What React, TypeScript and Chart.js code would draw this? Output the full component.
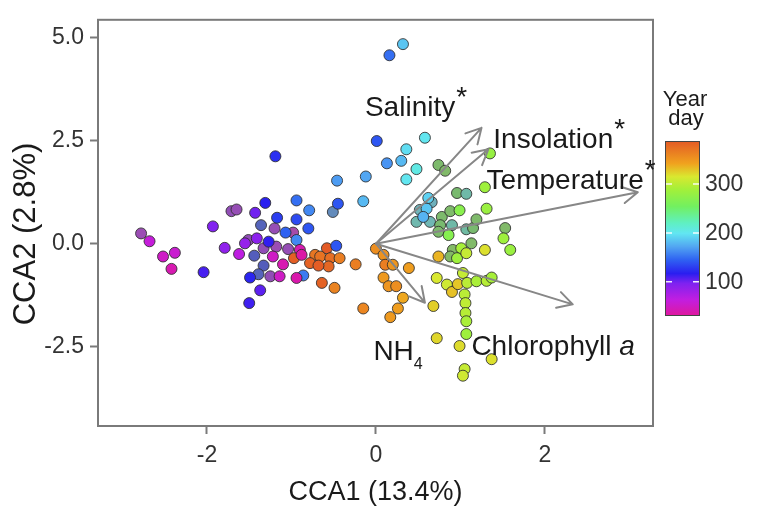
import { useEffect, useRef } from 'react';
import { Chart, registerables } from 'chart.js';

Chart.register(...registerables);

const FONT = "'Liberation Sans', Arial, Helvetica, sans-serif";

// ---- sample scores (CCA1, CCA2), year day, and muted (overlapping / second set) flag ----
const cca1 = [
  -2.78, -2.68, -2.52, -2.38, -2.42, -1.93, -2.04, -1.79, -1.71, -1.65,
  -1.62, -1.19, -1.31, -1.43, -0.94, -0.79, -0.45, -0.51, -1.17, -0.94,
  -1.36, -1.20, -1.07, -0.98, -0.80, -0.94, -1.51, -1.41, -1.55, -1.27,
  -1.33, -1.18, -1.04, -1.44, -1.22, -0.90, -0.97, -0.88, -0.72, -0.58,
  -0.47, -0.78, -0.66, -0.54, -0.43, -0.56, -0.68, -1.10, -1.33, -1.39,
  -1.25, -1.14, -0.86, -0.94, -1.49, -0.64, -0.49, -1.37, -1.50, -0.24,
  -0.15,
  0.16, 0.32, 0.01, -0.46, -0.12, 0.13, -0.15, 0.58, 0.36, 0.30, 0.48, 0.36,
  0.74, 0.82, 1.35, 0.96, 1.07, 1.29, 1.31, 0.66, 0.62, 0.60,
  0.56, 0.52, 0.48, 0.64, 0.78, 0.88, 0.99, 0.76, 0.90, 0.74,
  0.86, 1.07, 1.15, 1.19, 1.53, 1.51, 1.59, 1.29, 1.13, 1.01,
  0.91, 0.88, 0.96, 1.07, 0.74, 0.39, 0.00, 0.09, 0.11, 0.20,
  0.09, 0.15, 0.24, 0.32, 0.26, 0.17, 0.68, 0.72, 0.84, 0.90,
  0.97, 1.03, 1.08, 1.19, 1.31, 1.37, 1.05, 1.06, 1.06, 1.07,
  1.07, 0.99, 0.72, 1.37, 1.05, 1.03,
];
const cca2 = [
  0.25, 0.06, -0.31, -0.22, -0.61, 0.42, -0.69, -0.10, 0.79, 0.83,
  -0.25, 2.12, 0.99, 0.75, 1.05, 0.81, 0.97, 0.77, 0.63, 0.59,
  0.45, 0.37, 0.27, 0.27, 0.37, 0.09, 0.09, 0.13, 0.01, 0.05,
  -0.11, -0.07, -0.13, -0.29, -0.31, -0.15, -0.35, -0.27, -0.27, -0.11,
  -0.05, -0.47, -0.31, -0.35, -0.35, -0.55, -0.53, -0.50, -0.53, -0.74,
  -0.79, -0.79, -0.77, -0.83, -0.82, -0.95, -1.07, -1.13, -1.44, -0.50,
  -1.57,
  4.57, 4.84, 2.49, 1.53, 1.63, 1.95, 1.03, 2.57, 2.29, 2.01, 1.81, 1.56,
  1.91, 1.77, 2.19, 1.23, 1.21, 1.37, 0.85, 1.01, 1.11, 0.85,
  0.65, 0.82, 0.53, 0.53, 0.65, 0.79, 0.81, 0.45, 0.45, 0.29,
  0.21, 0.35, 0.38, 0.59, 0.38, 0.13, -0.15, -0.15, 0.01, -0.11,
  -0.15, -0.31, -0.35, -0.23, -0.31, -0.59, -0.12, -0.27, -0.51, -0.51,
  -0.82, -1.03, -1.03, -1.31, -1.57, -1.78, -1.51, -0.83, -0.99, -1.17,
  -0.98, -0.71, -0.95, -0.91, -0.90, -0.82, -1.23, -1.44, -1.68, -1.88,
  -2.19, -2.48, -2.29, -2.80, -3.04, -3.20,
];
const yearDay = [
  70, 60, 50, 55, 40, 95, 110, 88, 80, 75,
  65, 125, 118, 100, 150, 160, 140, 165, 130, 135,
  135, 75, 145, 55, 140, 160, 80, 90, 85, 115,
  80, 70, 75, 130, 50, 40, 385, 35, 370, 388,
  140, 382, 372, 375, 365, 380, 386, 40, 130, 135,
  80, 50, 155, 38, 120, 383, 362, 105, 112, 365,
  360,
  150, 185, 140, 168, 172, 165, 180, 200, 195, 180, 205, 200,
  260, 265, 280, 255, 215, 285, 282, 195, 190, 185,
  178, 200, 210, 205, 260, 262, 270, 255, 215, 260,
  268, 220, 255, 262, 265, 285, 282, 318, 265, 290,
  270, 268, 285, 305, 335, 345, 355, 352, 365, 350,
  348, 350, 355, 340, 345, 348, 325, 315, 310, 330,
  328, 305, 300, 292, 298, 290, 300, 302, 298, 292,
  285, 320, 322, 318, 305, 310,
];
const muted = [
  1, 0, 0, 0, 0, 0, 0, 0, 1, 1,
  0, 0, 0, 0, 0, 0, 0, 1, 0, 0,
  1, 1, 0, 1, 0, 0, 1, 0, 0, 0,
  1, 1, 1, 1, 0, 0, 0, 0, 0, 0,
  0, 0, 0, 0, 0, 0, 0, 0, 1, 1,
  1, 0, 0, 0, 0, 0, 0, 0, 0, 0,
  0,
  0, 0, 0, 0, 0, 0, 0, 0, 0, 0, 0, 0,
  1, 1, 0, 1, 1, 0, 0, 1, 0, 0,
  0, 1, 1, 1, 1, 1, 0, 1, 1, 1,
  0, 1, 1, 1, 1, 0, 0, 0, 1, 0,
  1, 1, 0, 0, 0, 0, 0, 0, 0, 0,
  0, 0, 0, 0, 0, 0, 0, 0, 0, 0,
  0, 0, 0, 0, 0, 0, 0, 0, 0, 0,
  0, 0, 0, 0, 0, 0,
];

// ---- environmental vectors ----
const arrowX = [1.25, 1.33, 3.1, 2.33, 0.58];
const arrowY = [2.81, 2.29, 1.25, -1.47, -1.43];
const labelX = [-0.13, 1.39, 1.31, 1.13, -0.03];
const labelY = [3.1, 2.33, 1.33, -2.69, -2.82];
const labelParts: [string, string][][] = [
  [['Salinity', 'n'], ['*', 'sup']],
  [['Insolation', 'n'], ['*', 'sup']],
  [['Temperature', 'n'], ['*', 'sup']],
  [['Chlorophyll ', 'n'], ['a', 'i']],
  [['NH', 'n'], ['4', 'sub']],
];

// ---- axes ----
const xTicks = [-2, 0, 2];
const yTicks = [-2.5, 0, 2.5, 5];
const xTitle = 'CCA1 (13.4%)';
const yTitle = 'CCA2 (2.8%)';

// ---- colour legend ----
const legendTitle = ['Year', 'day'];
const legendTicks = [100, 200, 300];
const legendMin = 30;
const legendMax = 388;
const dayStops = [30, 63, 97, 117, 145, 172, 199, 220, 254, 288, 315, 342, 388];
const stopColors = [
  '#e0189c', '#c21ee0', '#7e22f0', '#2a1ef0', '#2f62f2', '#52a6f2', '#62e6f2',
  '#5ff0c2', '#72f060', '#a2f03a', '#d9e830', '#f0a21e', '#e35a25',
];

function hexRgb(h: string) {
  return [parseInt(h.slice(1, 3), 16), parseInt(h.slice(3, 5), 16), parseInt(h.slice(5, 7), 16)];
}

function dayColor(d: number, mute: number) {
  let i = 0;
  while (i < dayStops.length - 2 && d > dayStops[i + 1]) i++;
  const t = Math.max(0, Math.min(1, (d - dayStops[i]) / (dayStops[i + 1] - dayStops[i])));
  const a = hexRgb(stopColors[i]);
  const b = hexRgb(stopColors[i + 1]);
  let c = a.map((v, k) => v + (b[k] - v) * t);
  if (mute) c = c.map((v) => v * 0.52 + 128 * 0.48);
  return `rgb(${Math.round(c[0])},${Math.round(c[1])},${Math.round(c[2])})`;
}

const frameAndBiplot = {
  id: 'frameAndBiplot',
  afterDatasetsDraw(chart: any) {
    const { ctx, chartArea, scales } = chart;
    const x = scales.x;
    const y = scales.y;
    ctx.save();
    // frame
    ctx.strokeStyle = '#7a7a7a';
    ctx.lineWidth = 2;
    ctx.strokeRect(chartArea.left, chartArea.top, chartArea.right - chartArea.left, chartArea.bottom - chartArea.top);
    // arrows
    const ox = x.getPixelForValue(0);
    const oy = y.getPixelForValue(0);
    ctx.strokeStyle = '#878787';
    ctx.lineWidth = 2;
    ctx.lineCap = 'round';
    ctx.lineJoin = 'round';
    arrowX.forEach((ax, i) => {
      const tx = x.getPixelForValue(ax);
      const ty = y.getPixelForValue(arrowY[i]);
      const ang = Math.atan2(ty - oy, tx - ox);
      const L = 17;
      const w = 0.5;
      ctx.beginPath();
      ctx.moveTo(ox, oy);
      ctx.lineTo(tx, ty);
      ctx.moveTo(tx - L * Math.cos(ang - w), ty - L * Math.sin(ang - w));
      ctx.lineTo(tx, ty);
      ctx.lineTo(tx - L * Math.cos(ang + w), ty - L * Math.sin(ang + w));
      ctx.stroke();
    });
    // labels
    ctx.fillStyle = '#1a1a1a';
    ctx.textBaseline = 'alphabetic';
    ctx.textAlign = 'left';
    labelParts.forEach((parts, i) => {
      let px = x.getPixelForValue(labelX[i]);
      const py = y.getPixelForValue(labelY[i]);
      parts.forEach(([txt, st]) => {
        let dy = 0;
        if (st === 'i') ctx.font = `italic 28px ${FONT}`;
        else if (st === 'sub') { ctx.font = `16px ${FONT}`; dy = 9; }
        else if (st === 'sup') { ctx.font = `28px ${FONT}`; dy = -10; px += 1; }
        else ctx.font = `28px ${FONT}`;
        ctx.fillText(txt, px, py + dy);
        px += ctx.measureText(txt).width;
      });
    });
    ctx.restore();
  },
  afterDraw(chart: any) {
    const { ctx, chartArea } = chart;
    ctx.save();
    // y-axis title (drawn here so it can sit where the reference puts it)
    ctx.fillStyle = '#1a1a1a';
    ctx.font = `31px ${FONT}`;
    ctx.textAlign = 'center';
    ctx.textBaseline = 'middle';
    ctx.translate(26, 234);
    ctx.rotate(-Math.PI / 2);
    ctx.fillText(yTitle, 0, 0);
    ctx.setTransform(1, 0, 0, 1, 0, 0);

    // colour bar
    const bx = chartArea.right + 12;
    const bw = 35;
    const top = 141;
    const bottom = 316;
    const grad = ctx.createLinearGradient(0, bottom, 0, top);
    dayStops.forEach((d, i) => {
      grad.addColorStop((d - legendMin) / (legendMax - legendMin), stopColors[i]);
    });
    ctx.fillStyle = grad;
    ctx.fillRect(bx, top, bw, bottom - top);
    ctx.strokeStyle = '#444';
    ctx.lineWidth = 1;
    ctx.strokeRect(bx + 0.5, top + 0.5, bw - 1, bottom - top - 1);
    ctx.font = `23px ${FONT}`;
    ctx.fillStyle = '#333';
    ctx.textBaseline = 'middle';
    ctx.textAlign = 'left';
    legendTicks.forEach((v) => {
      const py = bottom - ((v - legendMin) / (legendMax - legendMin)) * (bottom - top);
      ctx.strokeStyle = 'rgba(255,255,255,0.9)';
      ctx.lineWidth = 1.5;
      ctx.beginPath();
      ctx.moveTo(bx + 1, py);
      ctx.lineTo(bx + 7, py);
      ctx.moveTo(bx + bw - 7, py);
      ctx.lineTo(bx + bw - 1, py);
      ctx.stroke();
      ctx.fillText(String(v), bx + bw + 5, py + 1);
    });
    ctx.fillStyle = '#1a1a1a';
    ctx.textAlign = 'center';
    ctx.textBaseline = 'alphabetic';
    ctx.font = `22px ${FONT}`;
    ctx.fillText(legendTitle[0], bx + 20, 106);
    ctx.fillText(legendTitle[1], bx + 21, 125);
    ctx.restore();
  },
};

export default function App() {
  const ref = useRef<HTMLCanvasElement>(null);
  useEffect(() => {
    const vivid: { x: number; y: number }[] = [];
    const vividC: string[] = [];
    const dull: { x: number; y: number }[] = [];
    const dullC: string[] = [];
    cca1.forEach((xv, i) => {
      const pt = { x: xv, y: cca2[i] };
      if (muted[i]) {
        dull.push(pt);
        dullC.push(dayColor(yearDay[i], 1));
      } else {
        vivid.push(pt);
        vividC.push(dayColor(yearDay[i], 0));
      }
    });
    const pointStyle = {
      pointRadius: 5.5,
      pointHoverRadius: 5.5,
      borderWidth: 1,
      borderColor: 'rgba(45,45,45,0.85)',
    };
    const tickFont = { family: FONT, size: 23 };
    const chart = new Chart(ref.current as HTMLCanvasElement, {
      type: 'scatter',
      data: {
        datasets: [
          { label: 'samples', data: vivid, backgroundColor: vividC, ...pointStyle },
          { label: 'samples (overlap)', data: dull, backgroundColor: dullC, ...pointStyle },
        ],
      },
      options: {
        animation: false,
        responsive: false,
        devicePixelRatio: 1,
        events: [],
        layout: { padding: { left: 0, right: 115, top: 16, bottom: 0 } },
        plugins: { legend: { display: false }, tooltip: { enabled: false } },
        scales: {
          x: {
            type: 'linear',
            min: -3.29,
            max: 3.28,
            afterFit: (s: any) => { s.height = 83; },
            afterBuildTicks: (s: any) => { s.ticks = xTicks.map((v) => ({ value: v })); },
            ticks: { font: tickFont, color: '#333', padding: 8, callback: (v: any) => String(v), maxRotation: 0 },
            grid: { drawOnChartArea: false, drawTicks: true, tickLength: 8, tickColor: '#7a7a7a', tickWidth: 2 },
            border: { display: false },
            title: { display: true, text: xTitle, font: { family: FONT, size: 27 }, color: '#1a1a1a', padding: { top: 0, bottom: 0 } },
          },
          y: {
            type: 'linear',
            min: -4.42,
            max: 5.43,
            afterFit: (s: any) => { s.width = 98; },
            afterBuildTicks: (s: any) => { s.ticks = yTicks.map((v) => ({ value: v })); },
            ticks: { font: tickFont, color: '#333', padding: 6, callback: (v: any) => Number(v).toFixed(1) },
            grid: { drawOnChartArea: false, drawTicks: true, tickLength: 8, tickColor: '#7a7a7a', tickWidth: 2 },
            border: { display: false },
            title: { display: false, text: yTitle },
          },
        },
      },
      plugins: [frameAndBiplot],
    });
    return () => chart.destroy();
  }, []);
  return (
    <div style={{ position: 'fixed', left: 0, top: 0, width: 768, height: 509, background: '#fff' }}>
      <canvas ref={ref} width={768} height={509} style={{ display: 'block' }} />
    </div>
  );
}
